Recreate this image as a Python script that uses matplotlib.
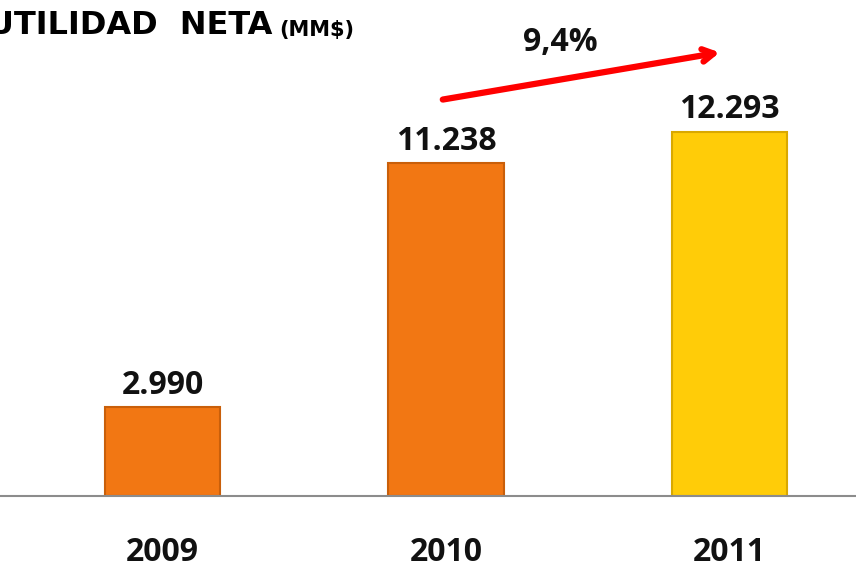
import matplotlib
matplotlib.use("Agg")
import matplotlib.pyplot as plt

years = ["2009", "2010", "2011"]
values = [2990, 11238, 12293]
value_labels = ["2.990", "11.238", "12.293"]
growth_label = "9,4%"
bar_colors = ["#F27713", "#F27713", "#FFCC08"]
edge_colors = ["#C95F0A", "#C95F0A", "#D9A800"]

plt.rcParams['font.family'] = ['Open Sans', 'DejaVu Sans']

fig = plt.figure(figsize=(8.56, 5.68), dpi=100)
ax = fig.add_axes([0, 72 / 568, 1, 496 / 568])
x = list(range(len(years)))
ax.set_xlim(-0.573, 2.446)
ax.set_ylim(0, 16757)

ax.bar(x, values, width=0.406, color=bar_colors, edgecolor=edge_colors, linewidth=1.5, zorder=2)
for xi, v, lab in zip(x, values, value_labels):
    ax.annotate(lab, (xi, v), xytext=(0, 16), textcoords="offset points",
                ha="center", va="center", fontsize=23, fontweight="bold", color="#111111")

for s in ["top", "right", "left"]:
    ax.spines[s].set_visible(False)
ax.spines["bottom"].set_color("#8c8c8c")
ax.spines["bottom"].set_linewidth(1.5)
ax.set_yticks([])
ax.set_xticks(x)
ax.set_xticklabels(years, fontsize=23, fontweight="bold", color="#111111")
ax.tick_params(axis="x", length=0, pad=29)

# Growth arrow
ax.annotate("", xy=(1.975, 15000), xytext=(0.979, 13378),
            arrowprops=dict(arrowstyle="->,head_length=0.8,head_width=0.45", color="#FF0000", lw=4.5))
ax.text(1.402, 15338, growth_label, ha="center", va="center", fontsize=23, fontweight="bold", color="#111111")

fig.text(272 / 856, 1 - 26 / 568, "UTILIDAD  NETA", ha="right", va="center", fontsize=23,
         fontweight="bold", color="#000000", family="DejaVu Sans")
fig.text(279 / 856, 1 - 30 / 568, "(MM$)", ha="left", va="center", fontsize=15,
         fontweight="bold", color="#000000", family="DejaVu Sans")

fig.savefig("out.png", dpi=100)
